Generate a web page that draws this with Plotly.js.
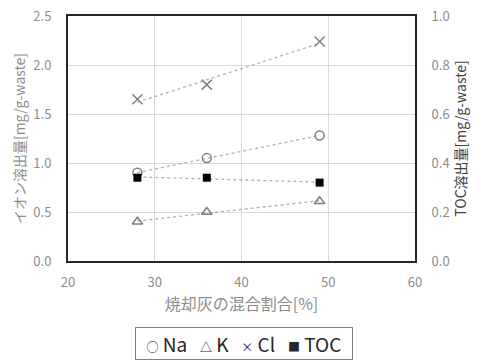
<!DOCTYPE html>
<html><head><meta charset="utf-8">
<script src="https://cdn.plot.ly/plotly-3.0.1.min.js"></script>
<style>html,body{margin:0;padding:0;background:#fff}#c{width:481px;height:360px}</style>
</head><body><div id="c"></div>
<script>
const mixRatio = [28, 36, 49];
const naValues = [0.90, 1.05, 1.28];
const kValues = [0.40, 0.50, 0.61];
const clValues = [1.65, 1.80, 2.24];
const tocValues = [0.34, 0.34, 0.32];
const legendLabels = ['Na', 'K', 'Cl', 'TOC'];
const legendSymbols = ['○', '△', '×', '■'];

function fitLine(xs, ys) {
  const n = xs.length;
  const mx = xs.reduce((a, b) => a + b, 0) / n;
  const my = ys.reduce((a, b) => a + b, 0) / n;
  let sxy = 0, sxx = 0;
  for (let i = 0; i < n; i++) { sxy += (xs[i] - mx) * (ys[i] - my); sxx += (xs[i] - mx) ** 2; }
  const b = sxy / sxx, a = my - b * mx;
  const x0 = Math.min(...xs), x1 = Math.max(...xs);
  return { x: [x0, x1], y: [a + b * x0, a + b * x1] };
}

const font = "'Noto Sans CJK JP', 'Noto Sans', sans-serif";
const trendColor = '#b0b0b0';
const traces = [];
function addTrend(vals, axis) {
  const f = fitLine(mixRatio, vals);
  traces.push({ x: f.x, y: f.y, yaxis: axis, mode: 'lines', showlegend: false, hoverinfo: 'skip',
    line: { color: trendColor, dash: 'dot', width: 1.3 } });
}
addTrend(naValues, 'y'); addTrend(kValues, 'y'); addTrend(clValues, 'y'); addTrend(tocValues, 'y2');

traces.push({ x: mixRatio, y: naValues, name: legendLabels[0], mode: 'markers',
  marker: { symbol: 'circle-open', size: 9, color: '#7f7f7f', line: { width: 1.5, color: '#7f7f7f' } } });
traces.push({ x: mixRatio, y: kValues, name: legendLabels[1], mode: 'markers',
  marker: { symbol: 'triangle-up-open', size: 9, color: '#7f7f7f', line: { width: 1.5, color: '#7f7f7f' } } });
traces.push({ x: mixRatio, y: clValues, name: legendLabels[2], mode: 'markers',
  marker: { symbol: 'x-thin-open', size: 10, color: '#7f7f7f', line: { width: 1.5, color: '#7f7f7f' } } });
traces.push({ x: mixRatio, y: tocValues, name: legendLabels[3], yaxis: 'y2', mode: 'markers',
  marker: { symbol: 'square', size: 8, color: '#000000' } });

const tickFont = { family: font, size: 13, color: '#8c8c8c' };
const sym = s => '<span style="font-size:12px">' + s + '</span>';
const sp = '&#160;';
const legendText = legendLabels.map((l, i) => sym(legendSymbols[i]) + sp + l).join(sp + sp + sp);
const layout = {
  width: 481, height: 360,
  margin: { l: 68, r: 66, t: 16, b: 99 },
  paper_bgcolor: '#fff', plot_bgcolor: '#fff',
  showlegend: false,
  font: { family: font },
  xaxis: {
    range: [20, 60], dtick: 10, tick0: 20, showgrid: true, gridcolor: '#d9d9d9', gridwidth: 1,
    zeroline: false, showline: true, linecolor: '#262626', linewidth: 2, mirror: true,
    ticks: 'outside', ticklen: 8, tickcolor: 'rgba(0,0,0,0)', tickfont: tickFont,
    title: { text: '焼却灰の混合割合[%]', font: { family: font, size: 16, color: '#8c8c8c' }, standoff: 6 }
  },
  yaxis: {
    range: [0, 2.5], dtick: 0.5, tickformat: '.1f', showgrid: true, gridcolor: '#d9d9d9', gridwidth: 1,
    zeroline: false, showline: true, linecolor: '#262626', linewidth: 2, mirror: false,
    ticks: 'outside', ticklen: 12, tickcolor: 'rgba(0,0,0,0)', tickfont: tickFont,
    title: { text: 'イオン溶出量[mg/g-waste]', font: { family: font, size: 14, color: '#8c8c8c' }, standoff: 4 }
  },
  yaxis2: {
    range: [0, 1.0], dtick: 0.2, tickformat: '.1f', overlaying: 'y', side: 'right', showgrid: false,
    zeroline: false, showline: true, linecolor: '#262626', linewidth: 2,
    ticks: 'outside', ticklen: 12, tickcolor: 'rgba(0,0,0,0)', tickfont: tickFont,
    title: { text: 'TOC溶出量[mg/g-waste]', font: { family: font, size: 14, color: '#404040' }, standoff: 8 }
  },
  annotations: [{
    xref: 'paper', yref: 'paper', x: 0.506, y: -0.27, xanchor: 'center', yanchor: 'top', showarrow: false,
    text: sp + sp + legendText + sp + sp,
    font: { family: font, size: 19, color: '#262626' },
    bordercolor: '#7f7f7f', borderwidth: 1, borderpad: 2, bgcolor: '#fff'
  }]
};
Plotly.newPlot('c', traces, layout, { staticPlot: true });
</script></body></html>
